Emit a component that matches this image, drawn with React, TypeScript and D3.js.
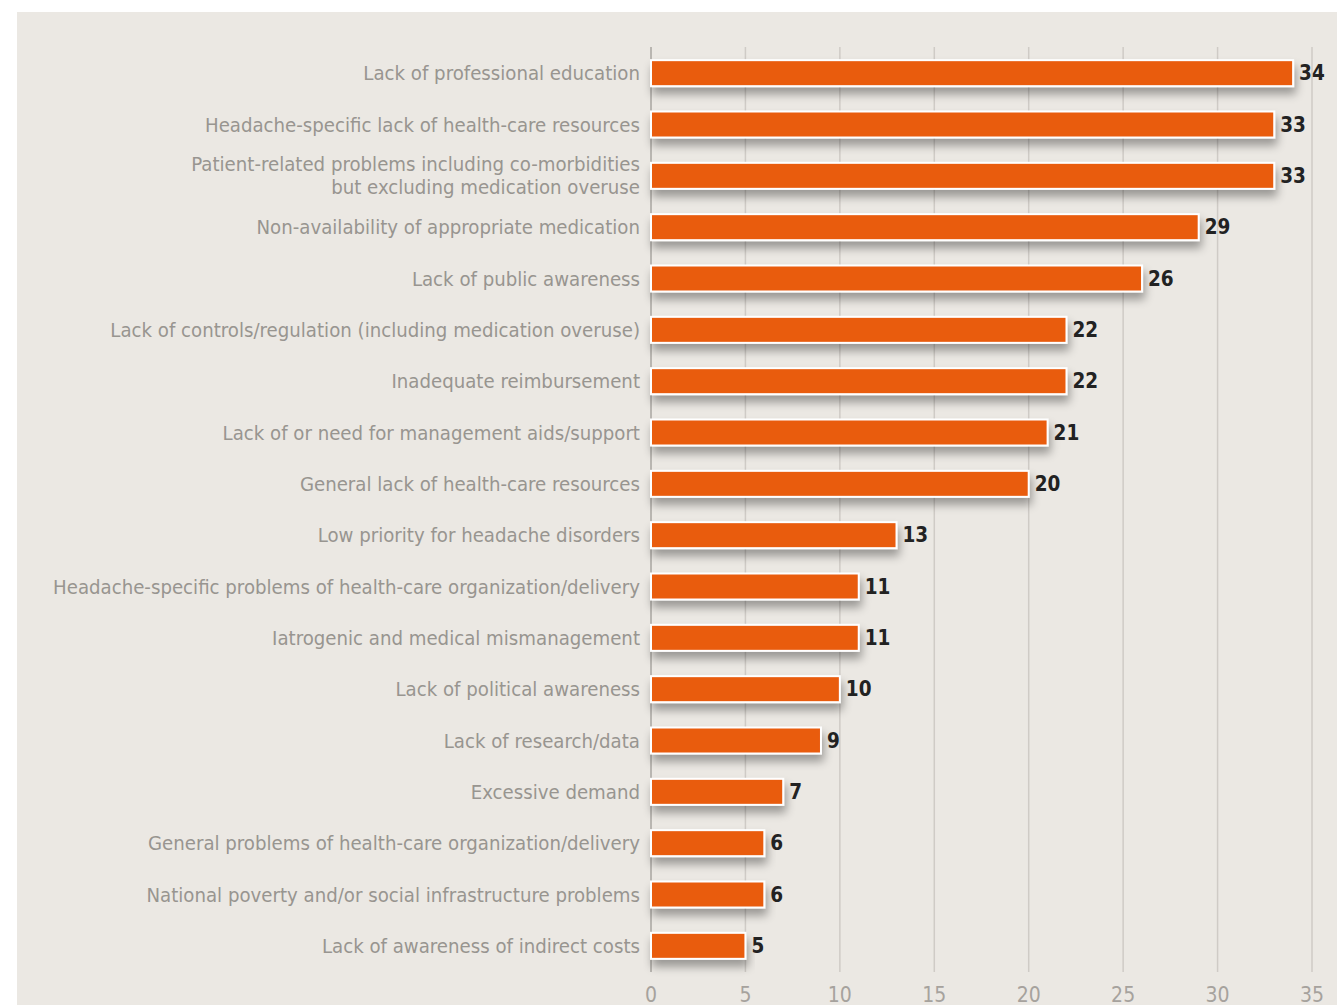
import React from "react";
import * as d3 from "d3";

const categories = [
  ["Lack of professional education"],
  ["Headache-specific lack of health-care resources"],
  ["Patient-related problems including co-morbidities", "but excluding medication overuse"],
  ["Non-availability of appropriate medication"],
  ["Lack of public awareness"],
  ["Lack of controls/regulation (including medication overuse)"],
  ["Inadequate reimbursement"],
  ["Lack of or need for management aids/support"],
  ["General lack of health-care resources"],
  ["Low priority for headache disorders"],
  ["Headache-specific problems of health-care organization/delivery"],
  ["Iatrogenic and medical mismanagement"],
  ["Lack of political awareness"],
  ["Lack of research/data"],
  ["Excessive demand"],
  ["General problems of health-care organization/delivery"],
  ["National poverty and/or social infrastructure problems"],
  ["Lack of awareness of indirect costs"],
];
const values = [34, 33, 33, 29, 26, 22, 22, 21, 20, 13, 11, 11, 10, 9, 7, 6, 6, 5];
const ticks = [0, 5, 10, 15, 20, 25, 30, 35];

const FONT = "'DejaVu Sans Condensed', 'Liberation Sans Narrow', Roboto, sans-serif";

export default function App() {
  const W = 1337, H = 1005;
  const x = d3.scaleLinear().domain([0, 35]).range([651, 1312]);
  const y = d3.scaleBand<number>().domain(d3.range(values.length)).range([47.5, 971.5]).paddingInner(0.5).paddingOuter(0.25);
  const bh = 26;
  return (
    <svg width={W} height={H} style={{ position: "absolute", left: 0, top: 0 }}>
      <defs>
        <filter id="sh" x="-10%" y="-50%" width="120%" height="250%">
          <feGaussianBlur in="SourceAlpha" stdDeviation="5" />
          <feOffset dx="2" dy="7" result="b" />
          <feComponentTransfer><feFuncA type="linear" slope="0.35" /></feComponentTransfer>
          <feMerge><feMergeNode /><feMergeNode in="SourceGraphic" /></feMerge>
        </filter>
      </defs>
      <rect x={17} y={12} width={W - 17} height={H - 12} fill="#ebe8e3" />
      {ticks.map((t) => (
        <g key={t}>
          <line x1={x(t)} x2={x(t)} y1={47} y2={972} stroke={t === 0 ? "#b9b6b1" : "#cfcbc6"} strokeWidth={t === 0 ? 2 : 1.5} />
          <text x={x(t)} y={1002} textAnchor="middle" fontFamily={FONT} fontSize={21} fill="#a6a29d">{t}</text>
        </g>
      ))}
      {values.map((v, i) => {
        const cy = y(i)! + y.bandwidth() / 2;
        return (
          <g key={i}>
            <rect x={x(0)} y={cy - bh / 2} width={x(v) - x(0)} height={bh} fill="#e95b0f" stroke="#ffffff" strokeWidth={2} filter="url(#sh)" />
            <text x={x(v) + 6} y={cy} dy="0.35em" fontFamily={FONT} fontSize={20.5} fill="#222" fontWeight="bold">{v}</text>
            {categories[i].map((line, j) => (
              <text key={j} x={640} y={cy + (j - (categories[i].length - 1) / 2) * 23} dy="0.35em" textAnchor="end" fontFamily={FONT} fontSize={20.2} fill="#989590">{line}</text>
            ))}
          </g>
        );
      })}
    </svg>
  );
}
